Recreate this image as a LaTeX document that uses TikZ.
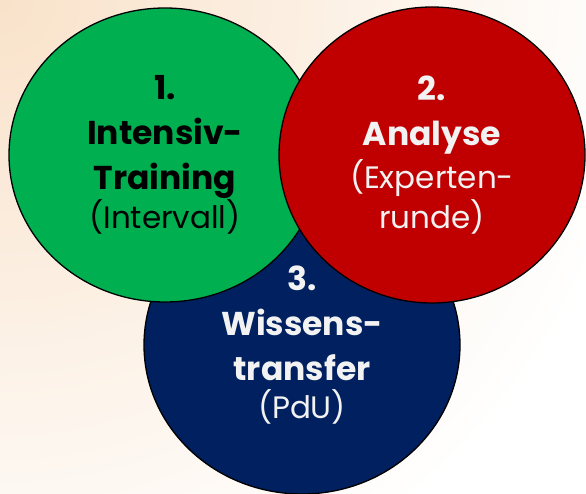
\documentclass[tikz,border=0pt]{standalone}
\usepackage{fontspec}
\setmainfont{Poppins}
\usetikzlibrary{shapes.geometric, positioning}
\definecolor{green}{RGB}{0,176,80}
\definecolor{red}{RGB}{192,0,0}
\definecolor{navy}{RGB}{0,32,96}
\definecolor{lightgrey}{RGB}{242,242,242}
\definecolor{peach}{RGB}{249,226,202}

\begin{document}
\begin{tikzpicture}[x=1pt,y=1pt,
    stage/.style={ellipse,draw=black,line width=1.3pt,inner sep=0pt,align=center,
        font=\fontsize{33}{45}\selectfont}]
        % background
        \useasboundingbox (0,0) rectangle (586,493);
        \begin{scope}
            \clip (0,0) rectangle (586,493);
            \fill[white] (0,0) rectangle (586,493);
            \shade[inner color=peach, outer color=white] (0,493) circle (650);
        \end{scope}
        % circles, bottom one first
        \node[stage,fill=navy,text=lightgrey,minimum width=316,minimum height=298] (transfer) at (302,148)
            {\textbf{3.}\\ \textbf{Wissens-}\\ \textbf{transfer}\\[-7pt] {\fontsize{31}{40}\selectfont(PdU)}};
        \node[stage,fill=green,text=black,minimum width=312,minimum height=294] (training) at (165,338)
            {\textbf{1.}\\ \textbf{Intensiv-}\\ \textbf{Training}\\[-6pt] {\fontsize{31}{40}\selectfont(Intervall)}};
        \node[stage,fill=red,text=lightgrey,minimum width=306,minimum height=296] (analyse) at (432,338)
            {\textbf{2.}\\ \textbf{Analyse}\\[-2pt] {\fontsize{31}{40}\selectfont(Experten-}\\[-5pt] {\fontsize{31}{40}\selectfont runde)}};
    \end{tikzpicture}
\end{document}
